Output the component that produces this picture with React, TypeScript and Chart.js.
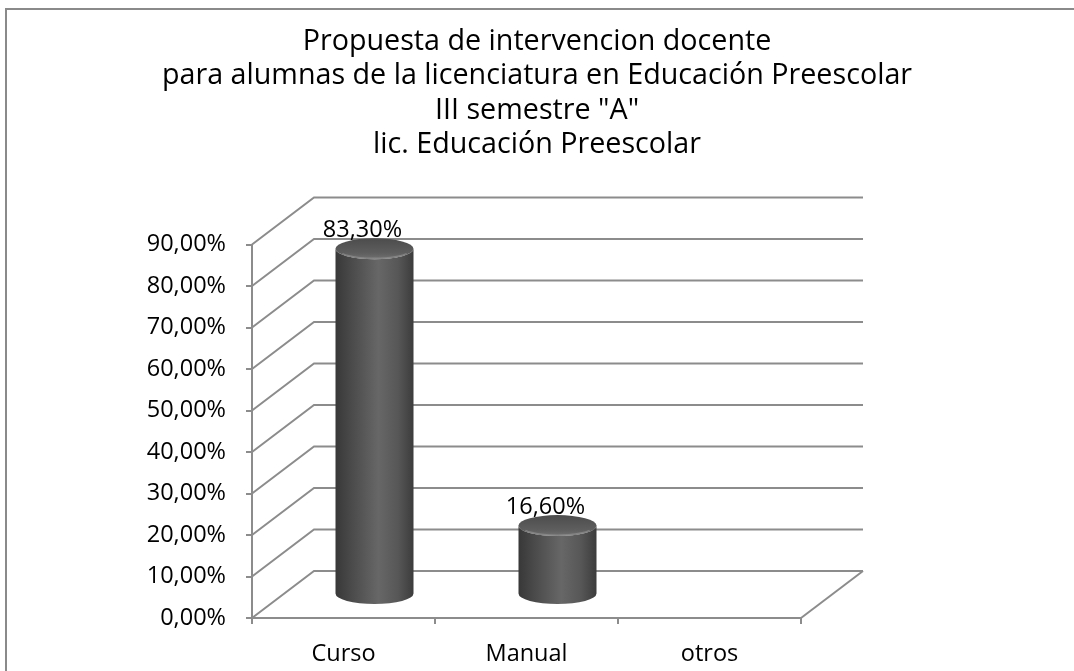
import React, { useEffect, useRef } from "react";
import { Chart, registerables } from "chart.js";

Chart.register(...registerables);

const categories = ["Curso", "Manual", "otros"];
const values: (number | null)[] = [83.3, 16.6, null];
const yTickValues = [0, 10, 20, 30, 40, 50, 60, 70, 80, 90];
const titleLines = [
  "Propuesta de intervencion docente",
  "para alumnas de la licenciatura en Educación Preescolar",
  'III semestre "A"',
  "lic. Educación Preescolar",
];

const DEPTH_X = 62;
const DEPTH_Y = -47;
const GRID = "#8c8c8c";
const FONT = "'Open Sans', Lato, sans-serif";
const TICK_SIZE = 23.5;
const TITLE_SIZE = 28.7;

function fmt(v: number) {
  return v.toFixed(2).replace(".", ",") + "%";
}

const threeD = {
  id: "threeD",
  beforeDatasetsDraw(chart: any) {
    const { ctx, chartArea } = chart;
    const y = chart.scales.y;
    ctx.save();
    ctx.strokeStyle = GRID;
    ctx.lineWidth = 2;
    yTickValues.forEach((v) => {
      const py = y.getPixelForValue(v);
      ctx.beginPath();
      ctx.moveTo(chartArea.left, py);
      ctx.lineTo(chartArea.left + DEPTH_X, py + DEPTH_Y);
      ctx.lineTo(chartArea.right + DEPTH_X, py + DEPTH_Y);
      ctx.stroke();
    });
    const y0 = y.getPixelForValue(0);
    ctx.beginPath();
    ctx.moveTo(chartArea.right, y0);
    ctx.lineTo(chartArea.right + DEPTH_X, y0 + DEPTH_Y);
    ctx.stroke();
    ctx.restore();
  },
  afterDatasetsDraw(chart: any) {
    const { ctx } = chart;
    const meta = chart.getDatasetMeta(0);
    ctx.save();
    meta.data.forEach((el: any, i: number) => {
      const v = values[i];
      if (v == null) return;
      const p = el.getProps(["x", "y", "base", "width"], true);
      const cx = p.x + DEPTH_X / 2;
      const top = p.y + DEPTH_Y / 2;
      const bot = p.base + DEPTH_Y / 2;
      const rx = 39;
      const ry = 10.5;
      const g = ctx.createLinearGradient(cx - rx, 0, cx + rx, 0);
      g.addColorStop(0, "#383838");
      g.addColorStop(0.2, "#4a4a4a");
      g.addColorStop(0.55, "#676767");
      g.addColorStop(0.8, "#575757");
      g.addColorStop(1, "#3c3c3c");
      ctx.beginPath();
      ctx.moveTo(cx - rx, top);
      ctx.lineTo(cx - rx, bot);
      ctx.ellipse(cx, bot, rx, ry, 0, Math.PI, 0, true);
      ctx.lineTo(cx + rx, top);
      ctx.ellipse(cx, top, rx, ry, 0, 0, Math.PI, false);
      ctx.closePath();
      ctx.fillStyle = g;
      ctx.fill();
      const tg = ctx.createLinearGradient(0, top - ry, 0, top + ry);
      tg.addColorStop(0, "#4c4c4c");
      tg.addColorStop(0.7, "#5e5e5e");
      tg.addColorStop(1, "#727272");
      ctx.beginPath();
      ctx.ellipse(cx, top, rx, ry, 0, 0, Math.PI * 2);
      ctx.fillStyle = tg;
      ctx.fill();
      ctx.beginPath();
      ctx.ellipse(cx, top + 1, rx - 3, ry - 2, 0, 0.15 * Math.PI, 0.85 * Math.PI);
      ctx.strokeStyle = "rgba(150,150,150,0.6)";
      ctx.lineWidth = 1.5;
      ctx.stroke();
      ctx.font = `${TICK_SIZE}px ${FONT}`;
      ctx.fillStyle = "#000";
      ctx.textAlign = "center";
      ctx.textBaseline = "middle";
      ctx.fillText(fmt(v), cx - 12, top - ry - 8);
    });
    ctx.restore();
  },
  afterDraw(chart: any) {
    const { ctx } = chart;
    ctx.save();
    ctx.strokeStyle = "#8a8a8a";
    ctx.lineWidth = 2;
    ctx.beginPath();
    ctx.moveTo(6, 720);
    ctx.lineTo(6, 9);
    ctx.lineTo(1100, 9);
    ctx.stroke();
    ctx.restore();
  },
};

export default function App() {
  const ref = useRef<HTMLCanvasElement>(null);
  useEffect(() => {
    document.body.style.margin = "0";
    const chart = new Chart(ref.current as HTMLCanvasElement, {
      type: "bar",
      data: {
        labels: categories,
        datasets: [
          {
            data: values as any,
            backgroundColor: "rgba(0,0,0,0)",
            borderWidth: 0,
            yAxisID: "y",
          },
        ],
      },
      options: {
        responsive: false,
        animation: false,
        events: [],
        layout: { padding: 0 },
        plugins: {
          legend: { display: false },
          tooltip: { enabled: false },
          title: {
            display: true,
            text: titleLines,
            color: "#000",
            font: { family: FONT, size: TITLE_SIZE, weight: "normal", lineHeight: "34.5px" } as any,
            padding: { top: 24.5, bottom: 82 },
          },
        },
        scales: {
          x: {
            type: "category",
            offset: true,
            grid: {
              display: true,
              drawOnChartArea: false,
              drawTicks: true,
              tickLength: 6,
              color: GRID,
              lineWidth: 2,
              offset: true,
            },
            border: { display: true, color: GRID, width: 2 },
            ticks: {
              color: "#000",
              font: { family: FONT, size: TICK_SIZE },
              padding: 16,
              maxRotation: 0,
            },
            afterFit: (s: any) => {
              s.height = 53;
            },
          },
          y: {
            type: "linear",
            position: "left",
            min: 0,
            max: 90,
            grid: {
              display: true,
              drawOnChartArea: false,
              drawTicks: true,
              tickLength: 6,
              color: GRID,
              lineWidth: 2,
            },
            border: { display: true, color: GRID, width: 2 },
            ticks: {
              stepSize: 10,
              color: "#000",
              font: { family: FONT, size: TICK_SIZE },
              padding: 20,
              callback: (v: any) => fmt(Number(v)),
            },
            afterFit: (s: any) => {
              s.width = 252;
            },
          },
          depthSpace: {
            type: "linear",
            position: "right",
            display: true,
            grid: { display: false },
            border: { display: false },
            ticks: { display: false },
            afterFit: (s: any) => {
              s.width = 273;
            },
          },
        },
      },
      plugins: [threeD],
    });
    return () => chart.destroy();
  }, []);
  return (
    <div style={{ width: 1074, height: 671 }}>
      <canvas ref={ref} width={1074} height={671} style={{ display: "block" }} />
    </div>
  );
}
